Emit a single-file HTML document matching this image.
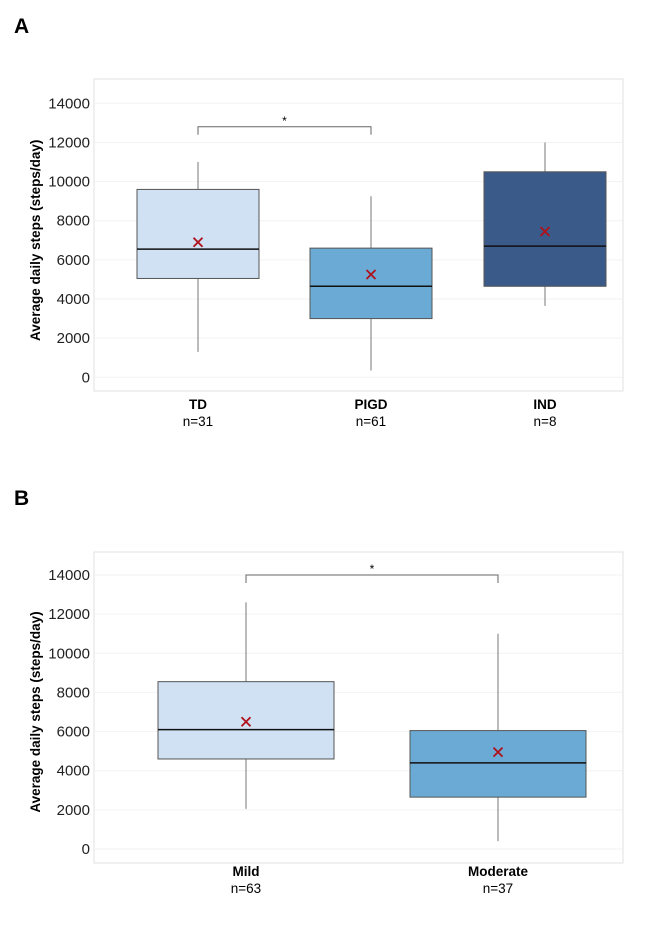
<!DOCTYPE html>
<html><head><meta charset="utf-8"><style>
body{margin:0;background:#fff;font-family:"Liberation Sans",sans-serif;}
svg text{font-family:"Liberation Sans",sans-serif;}
</style></head><body>
<svg id="s" width="650" height="925" xmlns="http://www.w3.org/2000/svg"></svg>
<script>
const catsA=["TD","PIGD","IND"];
const nA=["n=31","n=61","n=8"];
const q1A=[5050,3000,4650];
const medA=[6550,4650,6700];
const q3A=[9600,6600,10500];
const loA=[1300,350,3650];
const hiA=[11000,9250,12000];
const meanA=[6900,5250,7450];
const catsB=["Mild","Moderate"];
const nB=["n=63","n=37"];
const q1B=[4600,2650];
const medB=[6100,4400];
const q3B=[8550,6050];
const loB=[2050,400];
const hiB=[12600,11000];
const meanB=[6500,4950];
const ticks=[0,2000,4000,6000,8000,10000,12000,14000];
const colorsA=["#cfe1f2","#6aaad4","#3a5b8a"];
const colorsB=["#cfe1f2","#6aaad4"];
const svg=document.getElementById('s');
const NS="http://www.w3.org/2000/svg";
function mk(t,a,p){const e=document.createElementNS(NS,t);for(const k in a)e.setAttribute(k,a[k]);(p||svg).appendChild(e);return e;}
function panel(o){
  const g=mk('g',{});
  
  
  const y=v=>o.y0-(v/14000)*(o.y0-o.y14);
  const L=mk('text',{x:14,y:o.ly,'font-size':21,'font-weight':'bold'},g);L.textContent=o.letter;
  
  const fr=mk('rect',{x:94,y:o.top,width:529,height:o.bot-o.top,fill:'none',stroke:'#e2e2e2'},g);
  
  ticks.forEach(t=>{
    const gl=mk('line',{x1:95,x2:622,y1:y(t),y2:y(t),stroke:'#f2f2f2'},g);
    
    const tx=mk('text',{x:90,y:y(t)+5,'font-size':15,'text-anchor':'end',fill:'#222'},g);tx.textContent=t;
    
  });
  const yc=(o.y0+o.y14)/2;
  const at=mk('text',{x:0,y:0,'font-size':13.5,'font-weight':'bold','text-anchor':'middle',transform:`translate(40,${yc}) rotate(-90)`},g);
  at.textContent='Average daily steps (steps/day)';
  
  o.cats.forEach((c,i)=>{
    const cx=o.cx[i],hw=o.hw;
    const bg=mk('g',{},g);
    
    mk('line',{x1:cx,x2:cx,y1:y(o.hi[i]),y2:y(o.q3[i]),stroke:'#777'},bg);
    mk('line',{x1:cx,x2:cx,y1:y(o.q1[i]),y2:y(o.lo[i]),stroke:'#777'},bg);
    mk('rect',{x:cx-hw,y:y(o.q3[i]),width:2*hw,height:y(o.q1[i])-y(o.q3[i]),fill:o.col[i],stroke:'#555'},bg);
    mk('line',{x1:cx-hw,x2:cx+hw,y1:y(o.med[i]),y2:y(o.med[i]),stroke:'#111','stroke-width':1.5},bg);
    const my=y(o.mean[i]);
    const m=mk('path',{d:`M${cx-4.5},${my-4.5}L${cx+4.5},${my+4.5}M${cx+4.5},${my-4.5}L${cx-4.5},${my+4.5}`,stroke:'#b0101a','stroke-width':1.8},bg);
    
    const t1=mk('text',{x:cx,y:o.cy,'font-size':13.5,'font-weight':'bold','text-anchor':'middle'},g);t1.textContent=c;
    
    const t2=mk('text',{x:cx,y:o.cy+17,'font-size':13.5,'text-anchor':'middle'},g);t2.textContent=o.n[i];
    
  });
  const by=y(o.br),bx1=o.cx[o.bi[0]],bx2=o.cx[o.bi[1]];
  const br=mk('path',{d:`M${bx1},${by+8}V${by}H${bx2}V${by+8}`,fill:'none',stroke:'#666'},g);
  
  const st=mk('text',{x:(bx1+bx2)/2,y:by-2,'font-size':12,'text-anchor':'middle'},g);st.textContent='*';
  
}
panel({letter:'A',ly:33,top:79,bot:391,y0:377.3,y14:103.3,cats:catsA,n:nA,q1:q1A,med:medA,q3:q3A,lo:loA,hi:hiA,mean:meanA,col:colorsA,cx:[198,371,545],hw:61,cy:409,br:12800,bi:[0,1]});
panel({letter:'B',ly:505,top:552,bot:863,y0:849,y14:575,cats:catsB,n:nB,q1:q1B,med:medB,q3:q3B,lo:loB,hi:hiB,mean:meanB,col:colorsB,cx:[246,498],hw:88,cy:876,br:14000,bi:[0,1]});
</script>
</body></html>
